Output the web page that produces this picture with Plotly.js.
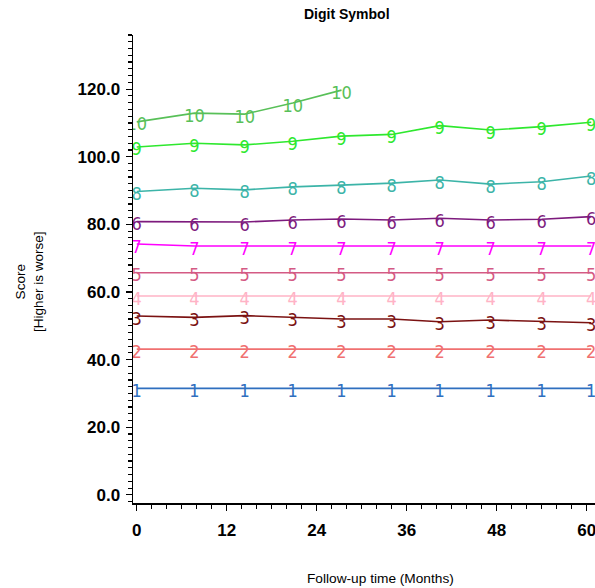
<!DOCTYPE html>
<html>
<head>
<meta charset="utf-8">
<script src="https://cdn.plot.ly/plotly-3.0.1.min.js"></script>
<style>html,body{margin:0;padding:0;background:#fff;}#chart{width:595px;height:588px;}</style>
</head>
<body>
<div id="chart"></div>
<script>
// Follow-up visit times (months)
const months = [0, 7.7, 14.4, 20.8, 27.3, 34, 40.4, 47.2, 54, 60.6];

// Series values (score), labelled 1..10 in the chart
const s1  = [31.5, 31.5, 31.5, 31.5, 31.5, 31.5, 31.5, 31.5, 31.5, 31.5];
const s2  = [43.1, 43.1, 43.1, 43.1, 43.1, 43.1, 43.1, 43.1, 43.1, 43.1];
const s3  = [52.9, 52.5, 53.0, 52.5, 52.0, 52.0, 51.2, 51.7, 51.4, 50.9];
const s4  = [58.8, 58.8, 58.8, 58.8, 58.8, 58.8, 58.8, 58.8, 58.8, 58.8];
const s5  = [65.7, 65.7, 65.7, 65.7, 65.7, 65.7, 65.7, 65.7, 65.7, 65.7];
const s6  = [80.8, 80.7, 80.7, 81.3, 81.6, 81.3, 81.8, 81.3, 81.5, 82.3];
const s7  = [74.2, 73.6, 73.6, 73.6, 73.6, 73.6, 73.6, 73.6, 73.6, 73.6];
const s8  = [89.7, 90.7, 90.2, 91.1, 91.6, 92.2, 93.1, 91.9, 92.6, 94.3];
const s9  = [102.9, 104.0, 103.5, 104.6, 106.1, 106.6, 109.2, 107.9, 108.9, 110.2];
const s10 = [110.3, 112.9, 112.6, 115.9, 119.7];

const seriesLabels = ["1","2","3","4","5","6","7","8","9","10"];
const seriesValues = [s1, s2, s3, s4, s5, s6, s7, s8, s9, s10];
const seriesColors = ["#2f6fbf","#f07070","#7b1212","#ffb3c6","#d45a84","#7d1a7d","#ff00ff","#3cb4a8","#2ee82e","#58c058"];

const yTicks = [0, 20, 40, 60, 80, 100, 120];
const xTicks = [0, 12, 24, 36, 48, 60];

const yRange = [-2.4, 136];
const labelShift = 1.2; // text glyphs sit a little below the line in the original

const lineTraces = seriesValues.map((vals, i) => ({
  type: 'scatter',
  mode: 'lines',
  x: months.slice(0, vals.length),
  y: vals,
  line: {color: seriesColors[i], width: 1.6},
  showlegend: false,
  hoverinfo: 'x+y'
}));

const textTraces = seriesValues.map((vals, i) => ({
  type: 'scatter',
  mode: 'text',
  x: months.slice(0, vals.length),
  y: vals,
  yaxis: 'y2',
  text: vals.map(() => seriesLabels[i]),
  textposition: 'middle center',
  textfont: {family: 'Liberation Sans Narrow, DejaVu Sans Condensed, DejaVu Sans, sans-serif', size: 18, color: seriesColors[i]},
  showlegend: false,
  hoverinfo: 'skip'
}));

const axisFont = {family: 'Liberation Sans, Arial, sans-serif', size: 17, color: '#000', weight: 'bold'};

const layout = {
  width: 595, height: 588,
  margin: {l: 133, r: 0, t: 35, b: 85},
  paper_bgcolor: '#fff', plot_bgcolor: '#fff',
  showlegend: false,
  xaxis: {
    range: [-0.5, 61.1],
    tickvals: xTicks,
    ticktext: xTicks.map(String),
    ticks: 'outside', ticklen: 6, tickwidth: 1.2, tickcolor: '#000',
    minor: {dtick: 2, tick0: 0, ticks: 'outside', ticklen: 4, tickwidth: 1.2, tickcolor: '#000'},
    showline: true, linecolor: '#000', linewidth: 1.5,
    showgrid: false, zeroline: false,
    tickfont: axisFont,
    ticklabelstandoff: 5,
    ticklabeloverflow: 'allow'
  },
  yaxis: {
    range: yRange,
    tickvals: yTicks,
    tickformat: '.1f',
    ticks: 'outside', ticklen: 6, tickwidth: 1.2, tickcolor: '#000',
    minor: {dtick: 2, tick0: 0, ticks: 'outside', ticklen: 4, tickwidth: 1.2, tickcolor: '#000'},
    showline: true, linecolor: '#000', linewidth: 1.5,
    showgrid: false, zeroline: false,
    tickfont: axisFont,
    ticklabelstandoff: 2
  },
  yaxis2: {
    overlaying: 'y',
    range: [yRange[0] + labelShift, yRange[1] + labelShift],
    visible: false,
    showgrid: false, zeroline: false
  },
  annotations: [
    {text: '<b>Digit Symbol</b>', xref: 'paper', yref: 'paper', x: (347-133)/462, y: (503-14)/468,
     xanchor: 'center', yanchor: 'middle', showarrow: false,
     font: {family: 'Liberation Sans, Arial, sans-serif', size: 14, color: '#000'}},
    {text: 'Score<br>[Higher is worse]', xref: 'paper', yref: 'paper', x: (29-133)/462, y: (503-282)/468,
     xanchor: 'center', yanchor: 'middle', textangle: -90, showarrow: false,
     font: {family: 'Liberation Sans, Arial, sans-serif', size: 13.5, color: '#000'}},
    {text: 'Follow-up time (Months)', xref: 'paper', yref: 'paper', x: (380-133)/462, y: (503-578)/468,
     xanchor: 'center', yanchor: 'middle', showarrow: false,
     font: {family: 'Liberation Sans, Arial, sans-serif', size: 13.7, color: '#000'}}
  ]
};

Plotly.newPlot('chart', lineTraces.concat(textTraces), layout, {displayModeBar: false, staticPlot: true});
</script>
</body>
</html>
